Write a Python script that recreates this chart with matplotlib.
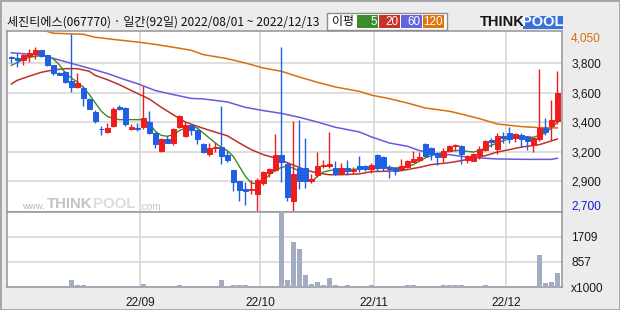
import matplotlib
matplotlib.use('Agg')
import matplotlib.pyplot as plt
from matplotlib.patches import Rectangle
import numpy as np

# ---------------- data ----------------
title = "세진티에스(067770) · 일간(92일) 2022/08/01 ~ 2022/12/13"

opens = [3870,3863,3845,3878,3896,3924,3884,3807,3749,3754,
         3685,3642,3634,3551,3451,3325,3296,3345,3492,3482,
         3322,3332,3337,3375,3294,3151,3243,3215,3334,3266,
         3352,3314,3207,3131,3177,3185,3126,3009,2925,2864,
         2857,2829,2910,2989,3012,3124,3057,2775,3024,3024,
         2928,2974,3037,3037,3024,2986,3027,3004,3042,3042,
         3017,3124,3108,3029,3024,3017,3029,3070,3083,3207,
         3177,3139,3111,3154,3192,3192,3083,3080,3124,3164,
         3238,3172,3271,3289,3251,3276,3258,3197,3248,3332,
         3347,3385]
highs = [3881,3900,3890,3934,3947,3924,3889,3812,3754,3767,
         4049,3749,3647,3558,3469,3345,3365,3487,3502,3487,
         3357,3365,3650,3459,3299,3253,3268,3329,3426,3375,
         3360,3322,3217,3215,3223,3497,3151,3009,2925,2918,
         2933,2948,2999,3024,3284,3947,3068,3380,3390,3253,
         2981,3146,3085,3299,3075,3062,3085,3029,3118,3050,
         3062,3131,3113,3050,3029,3093,3085,3151,3146,3212,
         3187,3144,3177,3197,3210,3197,3126,3136,3190,3240,
         3253,3289,3299,3337,3289,3289,3266,3263,3777,3406,
         3545,3764]
lows = [3825,3792,3807,3830,3858,3873,3802,3736,3731,3673,
        3601,3634,3500,3472,3370,3273,3290,3340,3467,3347,
        3314,3309,3322,3284,3179,3146,3218,3197,3329,3261,
        3273,3207,3139,3116,3146,3055,3070,2846,2775,2745,
        2829,2699,2897,2958,3004,2918,2770,2699,2867,2872,
        2907,2953,3024,3024,2968,2981,2968,2979,2991,3004,
        2986,3004,3004,2948,2968,3012,3024,3070,3075,3106,
        3088,3050,3070,3146,3157,3055,3063,3075,3090,3157,
        3187,3131,3218,3218,3223,3182,3162,3146,3233,3273,
        3238,3362]
closes = [3860,3845,3884,3904,3924,3878,3807,3746,3736,3678,
          3642,3673,3561,3477,3385,3318,3332,3474,3477,3360,
          3337,3325,3403,3289,3205,3245,3218,3322,3418,3355,
          3317,3246,3146,3177,3187,3118,3088,2920,2854,2846,
          2864,2930,2994,3017,3124,3073,2803,2979,2925,2925,
          2938,3042,3050,3052,2979,3024,3001,3012,3017,3019,
          3047,3024,3024,3019,2999,3042,3080,3096,3111,3116,
          3131,3108,3154,3192,3200,3131,3113,3131,3169,3228,
          3225,3266,3251,3248,3281,3246,3233,3253,3329,3301,
          3390,3594]
volumes = [35,35,35,35,35,35,35,35,35,35,
           235,59,59,35,35,35,35,35,35,35,
           35,35,94,35,35,35,35,35,59,35,
           35,35,35,35,35,235,35,59,59,59,
           35,35,35,35,35,3000,235,1538,1303,411,
           94,164,59,317,59,35,59,35,35,35,
           59,35,35,35,35,35,59,59,35,35,
           35,35,59,59,59,59,35,35,35,59,
           35,35,35,35,35,35,35,35,1080,141,
           164,481]

ma5 = [3807,3828,3851,3868,3876,3881,3876,3856,3812,3749,
       3711,3680,3640,3584,3520,3457,3418,3401,3393,3393,
       3393,3393,3393,3368,3304,3273,3266,3279,3309,3329,
       3342,3329,3291,3253,3215,3182,3157,3113,3037,2961,
       2910,2902,2923,2973,3004,3029,3037,3024,2999,2948,
       2918,2961,2994,3004,3012,3012,3012,3012,3019,3024,
       3024,3024,3029,3029,3024,3029,3037,3050,3075,3101,
       3118,3131,3144,3151,3157,3159,3151,3146,3157,3177,
       3197,3215,3233,3248,3258,3263,3263,3258,3273,3291,
       3329,3373]
ma20_idx = [0,1,3,5,7,9,11,13,14,16,18,20,23,25,27,29,31,33,36,38,
            40,42,44,46,49,51,53,55,58,60,62,65,68,70,73,75,77,79,81,83,
            85,88,91]
ma20_val = [3665,3693,3725,3754,3772,3782,3782,3762,3730,3698,3660,3615,3550,3487,3430,3375,3342,3312,3270,3215,
            3164,3126,3100,3065,3010,2986,2973,2973,2979,2996,2999,3004,3029,3050,3065,3080,3101,3118,3146,3164,
            3184,3202,3245]
ma60_idx = [0,4,6,9,13,16,19,21,24,27,30,32,36,39,42,45,48,51,54,58,
            60,63,66,68,71,73,75,78,81,86,90,91]
ma60_val = [3903,3889,3873,3835,3785,3745,3697,3668,3615,3584,3555,3551,3528,3487,3462,3441,3411,3375,3335,3299,
            3262,3215,3190,3157,3131,3126,3113,3101,3093,3090,3090,3098]
ma120_idx = [0,6,7,12,14,17,21,24,27,30,32,36,39,42,45,48,51,54,58,60,
             63,66,69,73,75,78,81,85,88,91]
ma120_val = [4110,4066,4052,4044,4021,4005,3985,3967,3945,3922,3889,3858,3825,3787,3762,3718,3678,3642,3609,3580,
             3553,3520,3482,3457,3436,3401,3360,3340,3332,3330]

price_grid = [3825, 3600, 3375, 3150, 2925]
price_labels = ['3,800', '3,600', '3,400', '3,200', '2,900']
price_max_label = '4,050'
price_min_label = '2,700'
vol_ticks = [0, 857, 1709]
vol_labels = ['x1000', '857', '1709']
month_start_idx = [22, 42, 61, 83]
month_labels = ['22/09', '22/10', '22/11', '22/12']
legend_title = '이평'
legend_labels = ['5', '20', '60', '120']

# ---------------- style ----------------
UP, DOWN = '#f01c1c', '#1f5fe4'
C5, C20, C60, C120 = '#3c8c1e', '#c0302a', '#6a5ad8', '#d8700c'
LEG_COLORS = ['#3c8c2c', '#c83228', '#6464dc', '#e0730a']
GRID = '#d8d8d8'
SPINE = '#9c9c9c'
BG = '#ececec'
NUM_FONT = ['Liberation Sans', 'DejaVu Sans']
KR_FONT = ['Noto Sans CJK KR', 'DejaVu Sans']

W, H = 620, 310
fig = plt.figure(figsize=(W / 100, H / 100), dpi=100, facecolor=BG)


def fx(x):
    return x / W


def fy(y):
    return 1 - y / H


L, R, T, B, VB = 7.3, 562.3, 31.3, 212.3, 287.0
ax = fig.add_axes([fx(L), fy(B), (R - L) / W, (B - T) / H])
axv = fig.add_axes([fx(L), fy(VB), (R - L) / W, (VB - B) / H], sharex=ax)

o = np.array(opens, float)
h = np.array(highs, float)
lo = np.array(lows, float)
c = np.array(closes, float)
x = np.arange(len(o))
cols = [UP if cc >= oo else DOWN for oo, cc in zip(o, c)]

# main panel
ax.set_facecolor('white')
ax.set_xlim(-0.667, 91.83)
ax.set_ylim(2686.3, 4066.8)
ax.set_yticks(price_grid)
ax.set_yticklabels(price_labels, family=NUM_FONT)
ax.grid(axis='y', color=GRID, lw=1.2, zorder=0)
for m in month_start_idx:
    ax.axvline(m - 0.5, color=GRID, lw=1.2, zorder=0)
    axv.axvline(m - 0.5, color=GRID, lw=1.2, zorder=0)

ax.plot(ma120_idx, ma120_val, color=C120, lw=1.1, zorder=2)
ax.plot(ma60_idx, ma60_val, color=C60, lw=1.1, zorder=2)
ax.plot(ma20_idx, ma20_val, color=C20, lw=1.1, zorder=2)
ax.plot(x, ma5, color=C5, lw=1.0, zorder=2)

ax.vlines(x, lo, h, colors=cols, lw=1.0, zorder=3)
ax.bar(x, np.abs(c - o), bottom=np.minimum(o, c), width=0.78, color=cols,
       edgecolor=cols, linewidth=0.7, zorder=4)

ax.yaxis.tick_right()
ax.tick_params(axis='y', length=0, pad=6.5, labelsize=8.6, labelcolor='#1a1a1a')
ax.tick_params(axis='x', length=0, labelbottom=False)
for s in ax.spines.values():
    s.set_color(SPINE)
    s.set_linewidth(1.2)

lab_x = 1 + 8.7 / (R - L)
ax.text(lab_x, 0.960, price_max_label, transform=ax.transAxes, ha='left', va='center',
        fontsize=8.6, color='#d87008', family=NUM_FONT)
ax.text(lab_x, 0.031, price_min_label, transform=ax.transAxes, ha='left', va='center',
        fontsize=8.6, color='#1a1ad0', family=NUM_FONT)

# watermark
ax.text(fx(22), fy(206.5), 'www.', transform=fig.transFigure, fontsize=6.8, color='#b8b8b8',
        va='center', ha='left', family=NUM_FONT, zorder=1)
ax.text(fx(47), fy(203.5), 'THINK', transform=fig.transFigure, fontsize=10.8, color='#c4c4c4',
        fontweight='bold', va='center', ha='left', family=NUM_FONT, zorder=1)
ax.text(fx(93.5), fy(203.5), 'POOL', transform=fig.transFigure, fontsize=10.8, color='#dcdcdc',
        fontweight='bold', va='center', ha='left', family=NUM_FONT, zorder=1)
ax.text(fx(139), fy(206.5), '.com', transform=fig.transFigure, fontsize=7.2, color='#c4c4c4',
        va='center', ha='left', family=NUM_FONT, zorder=1)

# volume panel
axv.set_facecolor('white')
axv.bar(x, volumes, width=0.78, color='#a3acc2', zorder=3)
axv.set_ylim(0, 2550)
axv.set_yticks(vol_ticks)
axv.set_yticklabels(vol_labels, family=NUM_FONT)
axv.grid(axis='y', color=GRID, lw=1.2, zorder=0)
axv.yaxis.tick_right()
axv.tick_params(axis='y', length=0, pad=6.5, labelsize=8.6, labelcolor='#1a1a1a')
axv.set_xticks([m - 0.5 for m in month_start_idx])
axv.set_xticklabels(month_labels, family=NUM_FONT)
axv.tick_params(axis='x', length=0, pad=7.5, labelsize=8.6, labelcolor='#1a1a1a')
for s in axv.spines.values():
    s.set_color(SPINE)
    s.set_linewidth(1.2)

# header
fig.text(fx(7), fy(22.5), title, ha='left', va='center', fontsize=8.7,
         family=KR_FONT, color='#111111')
fig.patches.append(Rectangle((fx(327), fy(29.7)), 120 / W, 16.4 / H, transform=fig.transFigure,
                             facecolor='white', edgecolor='#8c8c8c', lw=1.0))
fig.text(fx(343), fy(21.8), legend_title, ha='center', va='center', fontsize=8.6,
         family=KR_FONT, color='#111111')
for k, (lab, col) in enumerate(zip(legend_labels, LEG_COLORS)):
    x0 = 357 + k * 22
    fig.patches.append(Rectangle((fx(x0), fy(28)), 21 / W, 13 / H, transform=fig.transFigure,
                                 facecolor=col, edgecolor='none'))
    fig.text(fx(x0 + 19.5), fy(21.8), lab, ha='right', va='center', fontsize=8.4,
             family=NUM_FONT, color='white')

# logo
fig.text(fx(480), fy(22.5), 'THINK', ha='left', va='center', fontsize=10.5, fontweight='bold',
         family=NUM_FONT, color='#161616')
fig.patches.append(Rectangle((fx(522.5), fy(29)), 40.5 / W, 13.3 / H, transform=fig.transFigure,
                             facecolor='#3a72dc', edgecolor='none'))
fig.text(fx(542.7), fy(22.5), 'POOL', ha='center', va='center', fontsize=10.5, fontweight='bold',
         family=NUM_FONT, color='white')

# outer frame
fig.patches.append(Rectangle((0, 0), 1, 1, transform=fig.transFigure, fill=False,
                             edgecolor='#a4a4a4', lw=2.0))

fig.savefig('out.png', dpi=100, facecolor=BG)
